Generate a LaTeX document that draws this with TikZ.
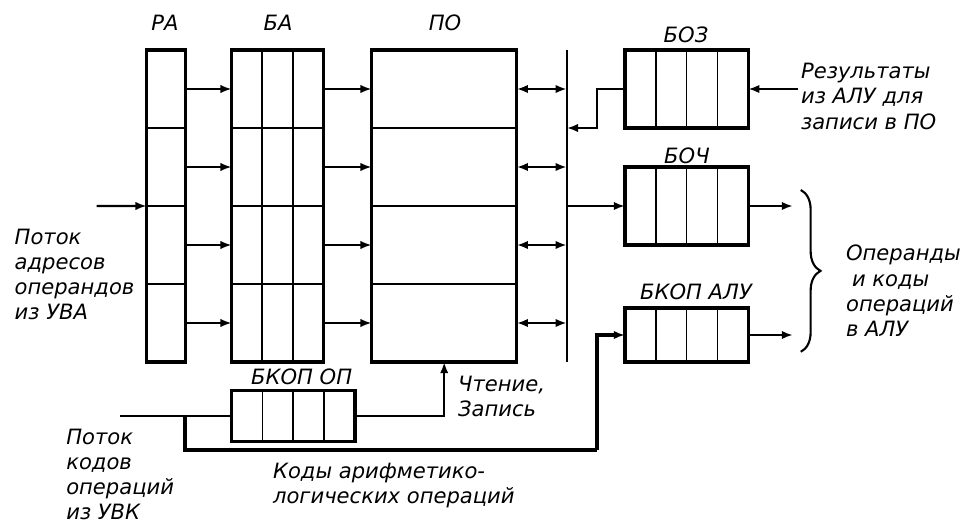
\documentclass[tikz,border=0pt]{standalone}
\usepackage{fontspec}
\setmainfont{DejaVu Sans}
\usepackage{tikz}
\usetikzlibrary{arrows.meta,positioning,calc,decorations.pathreplacing}

\begin{document}
\begin{tikzpicture}[
  font=\fontsize{15pt}{18pt}\selectfont\itshape,
  cell/.style={draw, line width=1.2pt, inner sep=0pt, outer sep=0pt},
  qcell/.style={cell, minimum width=0.77cm},
  frame/.style={line width=2.4pt},
  flow/.style={-{Latex[length=8pt,width=6pt]}, line width=1.7pt},
  both/.style={{Latex[length=8pt,width=6pt]}-{Latex[length=8pt,width=6pt]}, line width=1.7pt},
  wire/.style={line width=1.7pt},
  trunk/.style={line width=2.5pt},
  txt/.style={align=left, anchor=west, inner sep=2pt}
]
\useasboundingbox (0,0) rectangle (24.075,13.125);

\foreach \r/\y in {1/10.9,2/8.95,3/7.0,4/5.05} {
  \node[cell, minimum width=0.975cm, minimum height=1.95cm] (ra\r) at (4.155,\y) {};
  \foreach \c/\x in {1/6.175,2/6.94,3/7.705}
    \node[cell, minimum width=0.765cm, minimum height=1.95cm] (ba\r\c) at (\x,\y) {};
  \node[cell, minimum width=3.625cm, minimum height=1.95cm] (po\r) at (11.105,\y) {};
}
\draw[frame] (ra1.north west) rectangle (ra4.south east);
\draw[frame] (ba11.north west) rectangle (ba43.south east);
\draw[frame] (po1.north west) rectangle (po4.south east);
\node (ralbl) at (4.125,12.55) {РА};
\node (balbl) at (6.95,12.55) {БА};
\node (polbl) at (11.125,12.55) {ПО};

\coordinate (bustop) at (14.17,11.875);
\coordinate (busbot) at (14.17,4.075);
\draw[line width=1.2pt] (bustop) -- (busbot);

\foreach \r in {1,...,4} {
  \draw[flow] (ra\r.east) -- (ba\r1.west);
  \draw[flow] (ba\r3.east) -- (po\r.west);
  \draw[both] (po\r.east) -- (po\r.east -| bustop);
}
\coordinate (addrin) at (2.4175,7.975);
\draw[flow] (addrin) -- (ra2.south west);

\foreach \i in {1,...,4} {
  \node[qcell, minimum height=1.95cm] (boz\i) at ({15.625+(\i-0.5)*0.77},10.9) {};
  \node[qcell, minimum height=1.95cm] (boch\i) at ({15.625+(\i-0.5)*0.77},7.975) {};
  \node[qcell, minimum height=1.35cm] (alu\i) at ({15.625+(\i-0.5)*0.77},4.75) {};
  \node[qcell, minimum height=1.275cm] (kop\i) at ({5.7925+(\i-0.5)*0.77},2.725) {};
}
\draw[frame] (boz1.north west) rectangle (boz4.south east);
\draw[frame] (boch1.north west) rectangle (boch4.south east);
\draw[frame] (alu1.north west) rectangle (alu4.south east);
\draw[frame] (kop1.north west) rectangle (kop4.south east);
\node (bozlbl) at (17.15,12.25) {БОЗ};
\node (bochlbl) at (17.175,9.225) {БОЧ};
\node (alulbl) at (17.4,5.825) {БКОП АЛУ};
\node (koplbl) at (7.54,3.7) {БКОП ОП};

\node[txt] (restxt) at (19.95,10.72) {Результаты\\из АЛУ для\\записи в ПО};
\draw[flow] (restxt.west |- boz4.east) -- (boz4.east);
\coordinate (busin) at (14.17,9.925);
\draw[flow] (boz1.west) -- ++(-0.7,0) |- (busin);
\draw[flow] (boch1.west -| bustop) -- (boch1.west);
\draw[flow] (boch4.east) -- ++(1.12,0);
\draw[flow] (alu4.east) -- ++(1.12,0);
\draw[decorate, decoration={brace, amplitude=14pt}, line width=1.5pt] (20.02,8.375) -- (20.02,4.33);
\node[txt] (optxt) at (21.075,5.85) {Операнды\\\hspace{0.15cm}и коды\\операций\\в АЛУ};

\node[txt] (addrtxt) at (0.29,6.2625) {Поток\\адресов\\операндов\\из УВА};
\node[txt] (codetxt) at (1.58,1.2625) {Поток\\кодов\\операций\\из УВК};
\node[txt] (alutxt) at (6.75,0.9875) {Коды арифметико-\\логических операций};
\node[txt] (rwtxt) at (11.375,3.2125) {Чтение,\\Запись};

\coordinate (codein) at (3.0,2.725);
\coordinate (split) at (4.625,2.725);
\coordinate (bend) at (14.925,1.875);
\draw[wire] (codein) -- (kop1.west);
\draw[trunk] (split) |- (bend);
\draw[flow, line width=2.2pt] (bend) |- (alu1.west);
\draw[flow] (kop4.east) -| (po4.south);
\end{tikzpicture}
\end{document}
